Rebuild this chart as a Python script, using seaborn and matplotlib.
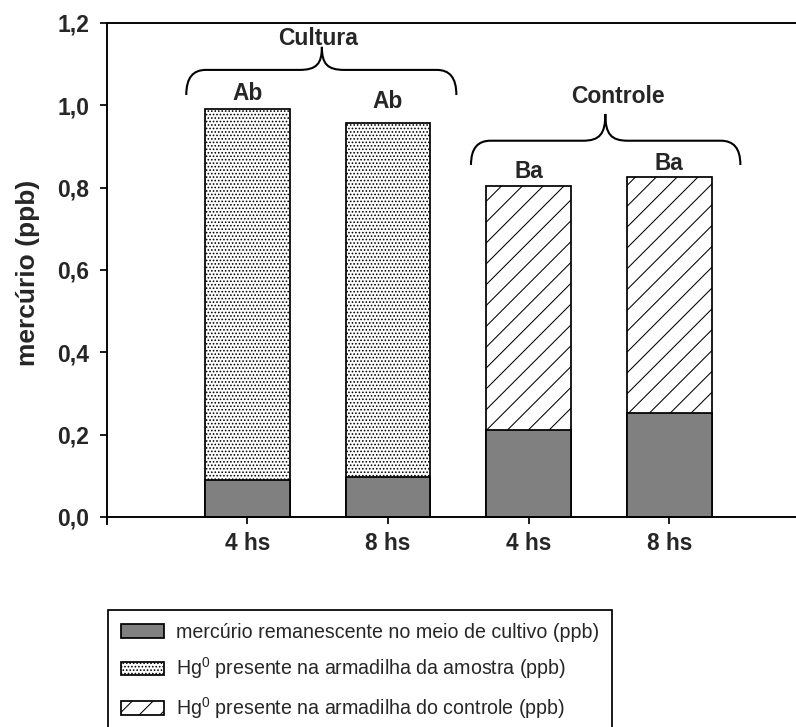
import numpy as np
import pandas as pd
import matplotlib
matplotlib.use("Agg")
import matplotlib.pyplot as plt
from matplotlib.patches import Patch, PathPatch
from matplotlib.path import Path
import seaborn as sns

# ---- data ----
groups = ["Cultura", "Cultura", "Controle", "Controle"]
times = ["4 hs", "8 hs", "4 hs", "8 hs"]
remaining = [0.090, 0.098, 0.211, 0.252]      # mercúrio remanescente no meio de cultivo
trapped = [0.900, 0.860, 0.593, 0.573]        # Hg0 presente na armadilha
letters = ["Ab", "Ab", "Ba", "Ba"]
y_ticks = [0.0, 0.2, 0.4, 0.6, 0.8, 1.0, 1.2]
y_tick_labels = ["0,0", "0,2", "0,4", "0,6", "0,8", "1,0", "1,2"]
legend_labels = ["mercúrio remanescente no meio de cultivo (ppb)",
                 "Hg$^{0}$ presente na armadilha da amostra (ppb)",
                 "Hg$^{0}$ presente na armadilha do controle (ppb)"]

keys = [f"{g} {t}" for g, t in zip(groups, times)]
df = pd.DataFrame({"key": keys, "group": groups, "time": times,
                   "remaining": remaining, "trapped": trapped})
df["total"] = df["remaining"] + df["trapped"]

sns.set_theme(style="ticks")
plt.rcParams["font.family"] = ["Liberation Sans", "DejaVu Sans"]
plt.rcParams["mathtext.fontset"] = "custom"
plt.rcParams["mathtext.rm"] = "Liberation Sans"
plt.rcParams["mathtext.it"] = "Liberation Sans:italic"
plt.rcParams["mathtext.bf"] = "Liberation Sans:bold"
plt.rcParams["hatch.linewidth"] = 0.6
plt.rcParams["hatch.color"] = "black"

DPI = 125
fig = plt.figure(figsize=(796 / DPI, 727 / DPI), dpi=DPI)
ax = fig.add_axes([0.134, 0.2798, 0.8836, 0.6886])

HATCH_DOTS = "......"
HATCH_LINES = "//"

# stacked bars: totals (hatched) then remaining (gray) on top
sns.barplot(data=df, x="key", y="total", order=keys, color="white", saturation=1,
            width=0.6, errorbar=None, edgecolor="black", linewidth=1.0, ax=ax)
n_tot = len(ax.patches)
for p, g in zip(ax.patches[:n_tot], groups):
    p.set_hatch(HATCH_DOTS if g == "Cultura" else HATCH_LINES)
sns.barplot(data=df, x="key", y="remaining", order=keys, color="#808080", saturation=1,
            width=0.6, errorbar=None, edgecolor="black", linewidth=1.0, ax=ax)

ax.set_xlim(-1, 4)
ax.set_ylim(-0.016, 1.2)
ax.spines["bottom"].set_position(("data", 0))
ax.spines["right"].set_visible(False)
for s in ["left", "bottom", "top"]:
    ax.spines[s].set_linewidth(1.1)
    ax.spines[s].set_color("black")

ax.set_xticks(range(len(keys)))
ax.set_xticklabels(times, fontsize=13, fontweight="bold")
ax.set_yticks(y_ticks)
ax.set_yticklabels(y_tick_labels, fontsize=13.2, fontweight="bold")
ax.tick_params(axis="both", direction="out", length=4, width=1.0, color="black")
ax.tick_params(axis="y", pad=6)
ax.tick_params(axis="x", pad=4.5)
ax.set_xlabel("")
ax.set_ylabel("mercúrio (ppb)", fontsize=15.2, fontweight="bold")
ax.yaxis.set_label_coords(-0.095, 0.5)

# letters above bars
letter_y = [1.013, 0.993, 0.823, 0.843]
for i, (lab, ly) in enumerate(zip(letters, letter_y)):
    ax.text(i, ly, lab, ha="center", va="baseline", fontsize=13, fontweight="bold")


def brace(ax, x0, x1, xm, y_end, y_mid, y_peak, r=0.14, s=0.16):
    verts = [(x0, y_end),
             (x0, y_end + 0.7 * (y_mid - y_end)), (x0 + 0.35 * r, y_mid), (x0 + r, y_mid),
             (xm - s, y_mid),
             (xm - 0.25 * s, y_mid), (xm, y_mid + 0.25 * (y_peak - y_mid)), (xm, y_peak),
             (xm, y_mid + 0.25 * (y_peak - y_mid)), (xm + 0.25 * s, y_mid), (xm + s, y_mid),
             (x1 - r, y_mid),
             (x1 - 0.35 * r, y_mid), (x1, y_end + 0.7 * (y_mid - y_end)), (x1, y_end)]
    codes = [Path.MOVETO,
             Path.CURVE4, Path.CURVE4, Path.CURVE4,
             Path.LINETO,
             Path.CURVE4, Path.CURVE4, Path.CURVE4,
             Path.CURVE4, Path.CURVE4, Path.CURVE4,
             Path.LINETO,
             Path.CURVE4, Path.CURVE4, Path.CURVE4]
    ax.add_patch(PathPatch(Path(verts, codes), fill=False, lw=1.2,
                           edgecolor="black", clip_on=False))


brace(ax, -0.434, 1.486, 0.53, 1.025, 1.086, 1.142)
brace(ax, 1.590, 3.505, 2.545, 0.855, 0.914, 0.979)
ax.text(0.501, 1.146, "Cultura", ha="center", va="baseline", fontsize=13.2, fontweight="bold")
ax.text(2.636, 1.005, "Controle", ha="center", va="baseline", fontsize=13.2, fontweight="bold")

handles = [Patch(facecolor="#808080", edgecolor="black", linewidth=1.0),
           Patch(facecolor="white", edgecolor="black", linewidth=1.0, hatch=HATCH_DOTS),
           Patch(facecolor="white", edgecolor="black", linewidth=1.0, hatch=HATCH_LINES)]
leg = fig.legend(handles, legend_labels, loc="upper left",
                 bbox_to_anchor=(108 / 796, 1 - 610 / 727), bbox_transform=fig.transFigure,
                 borderaxespad=0, fontsize=11.3, frameon=True, fancybox=False,
                 edgecolor="black", framealpha=1, borderpad=0.65, handlelength=2.2,
                 handleheight=0.68, handletextpad=0.6, labelspacing=0.7)
leg.get_frame().set_linewidth(1.0)

fig.savefig("out.png", dpi=DPI)
